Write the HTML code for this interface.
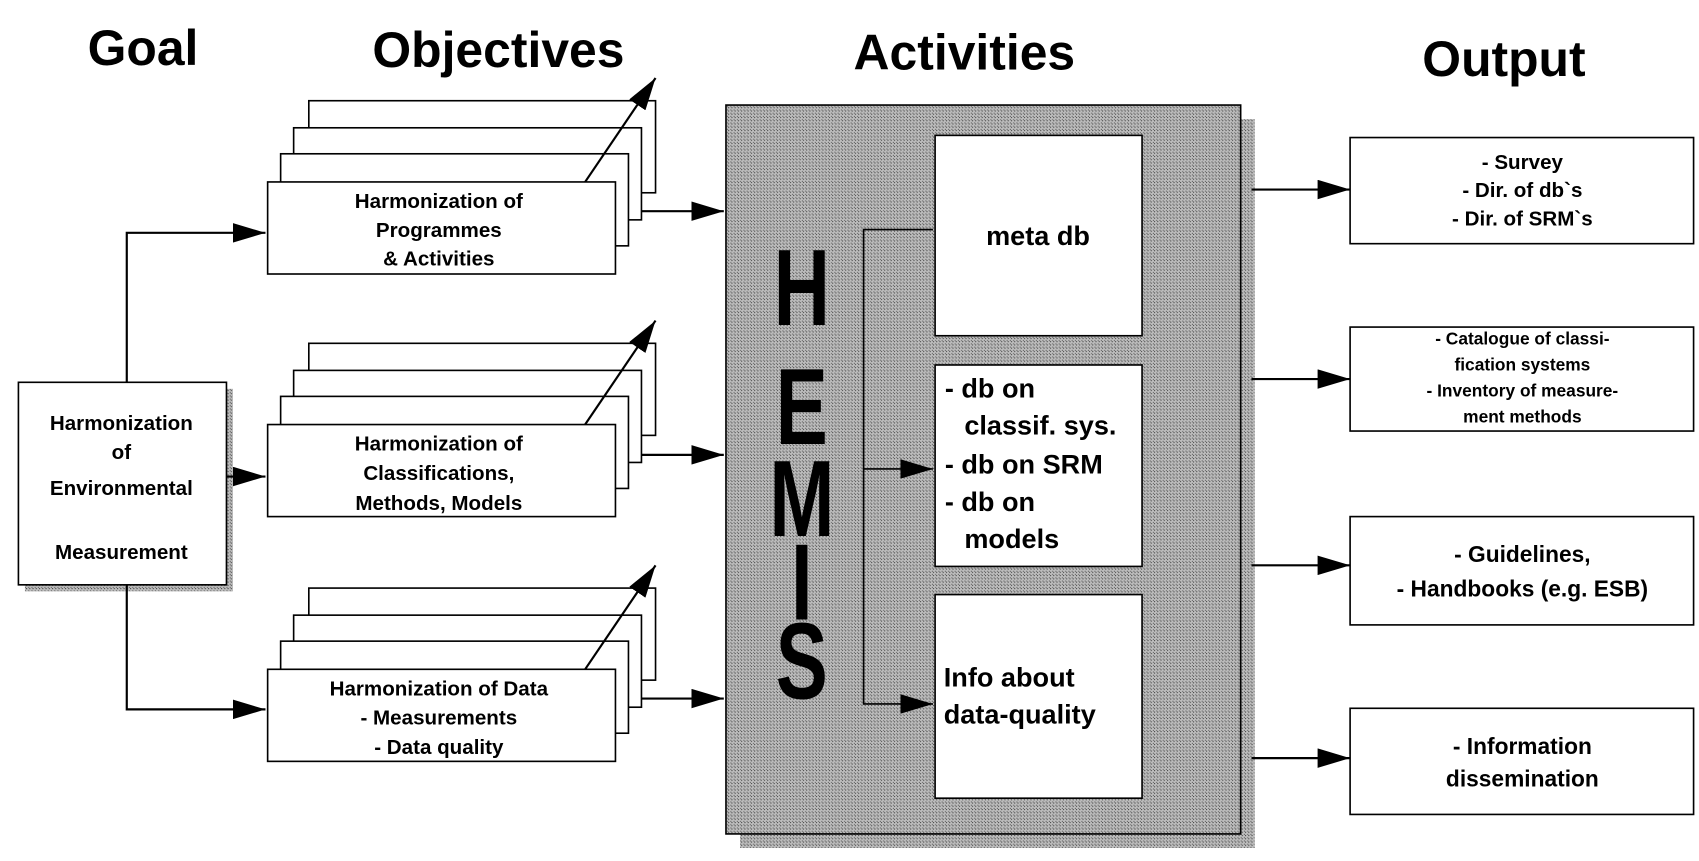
<!DOCTYPE html>
<html><head><style>html,body{margin:0;padding:0;background:#fff}svg{display:block}text{font-family:"Liberation Sans",sans-serif;font-weight:bold}</style></head><body>
<svg width="1699" height="861" viewBox="0 0 1568 795" preserveAspectRatio="none" xmlns="http://www.w3.org/2000/svg">
<defs>
<pattern id="dots" width="3" height="3" patternUnits="userSpaceOnUse"><rect width="3" height="3" fill="#bdbdbd"/><rect width="1" height="1" fill="#444"/><rect x="2" y="2" width="1" height="1" fill="#666"/></pattern>
<marker id="arB" markerWidth="30" markerHeight="18" refX="30" refY="9" orient="auto" markerUnits="userSpaceOnUse" viewBox="0 0 30 18"><path d="M0,0 L30,9 L0,18z" fill="#000"/></marker>
</defs>
<g font-size="46" text-anchor="middle">
<text x="132" y="60">Goal</text><text x="460" y="62">Objectives</text><text x="890" y="64">Activities</text><text x="1388" y="70">Output</text>
</g>
<rect x="23" y="359" width="192" height="187" fill="url(#dots)"/>
<rect x="17" y="353" width="192" height="187" fill="#fff" stroke="#000" stroke-width="1.5"/>
<g font-size="19" text-anchor="middle"><text x="112" y="397">Harmonization</text><text x="112" y="424">of</text><text x="112" y="457">Environmental</text><text x="112" y="516">Measurement</text></g>
<g stroke="#000" stroke-width="2" fill="none">
<polyline points="117,353 117,215 245,215" marker-end="url(#arB)"/>
<line x1="209" y1="440" x2="245" y2="440" marker-end="url(#arB)"/>
<polyline points="117,540 117,655 245,655" marker-end="url(#arB)"/>
</g>
<g stroke="#000" stroke-width="1.5" fill="#fff">
<g id="st">
<rect x="285" y="93" width="320" height="85"/><rect x="271" y="118" width="321" height="85"/><rect x="259" y="142" width="321" height="85"/><rect x="247" y="168" width="321" height="85"/>
</g>
<use href="#st" y="224"/><use href="#st" y="450"/>
</g>
<g stroke="#000" stroke-width="2" fill="none">
<line x1="540" y1="168" x2="605" y2="72" marker-end="url(#arB)"/>
<line x1="540" y1="392" x2="605" y2="296" marker-end="url(#arB)"/>
<line x1="540" y1="618" x2="605" y2="522" marker-end="url(#arB)"/>
<line x1="592" y1="195" x2="668" y2="195" marker-end="url(#arB)"/>
<line x1="592" y1="420" x2="668" y2="420" marker-end="url(#arB)"/>
<line x1="592" y1="645" x2="668" y2="645" marker-end="url(#arB)"/>
</g>
<g font-size="19" text-anchor="middle">
<text x="405" y="192">Harmonization of</text><text x="405" y="219">Programmes</text><text x="405" y="245">&amp; Activities</text>
<text x="405" y="416">Harmonization of</text><text x="405" y="443">Classifications,</text><text x="405" y="471">Methods, Models</text>
<text x="405" y="642">Harmonization of Data</text><text x="405" y="669">- Measurements</text><text x="405" y="696">- Data quality</text>
</g>
<rect x="683" y="110" width="475" height="673" fill="url(#dots)"/>
<rect x="670" y="97" width="475" height="673" fill="url(#dots)" stroke="#000" stroke-width="1.5"/>
<g font-size="100" text-anchor="middle" transform="translate(740,0) scale(0.72,1)"><text x="0" y="300">H</text><text x="0" y="410">E</text><text x="0" y="495">M</text><text x="0" y="572">I</text><text x="0" y="645">S</text></g>
<g fill="#fff" stroke="#000" stroke-width="1.5">
<rect x="863" y="125" width="191" height="185"/><rect x="863" y="337" width="191" height="186"/><rect x="863" y="549" width="191" height="188"/>
</g>
<g stroke="#000" stroke-width="1.5" fill="none">
<polyline points="861,212 797,212 797,650 861,650" marker-end="url(#arB)"/>
<line x1="797" y1="433" x2="861" y2="433" marker-end="url(#arB)"/>
</g>
<g font-size="25"><text x="958" y="226" text-anchor="middle">meta db</text>
<text x="872" y="367">- db on</text><text x="890" y="401">classif. sys.</text><text x="872" y="437">- db on SRM</text><text x="872" y="472">- db on</text><text x="890" y="506">models</text>
<text x="871" y="634">Info about</text><text x="871" y="668">data-quality</text></g>
<g fill="#fff" stroke="#000" stroke-width="1.5">
<rect x="1246" y="127" width="317" height="98"/><rect x="1246" y="302" width="317" height="96"/><rect x="1246" y="477" width="317" height="100"/><rect x="1246" y="654" width="317" height="98"/>
</g>
<g stroke="#000" stroke-width="2">
<line x1="1155" y1="175" x2="1246" y2="175" marker-end="url(#arB)"/>
<line x1="1155" y1="350" x2="1246" y2="350" marker-end="url(#arB)"/>
<line x1="1155" y1="522" x2="1246" y2="522" marker-end="url(#arB)"/>
<line x1="1155" y1="700" x2="1246" y2="700" marker-end="url(#arB)"/>
</g>
<g font-size="19" text-anchor="middle">
<text x="1405" y="156">- Survey</text><text x="1405" y="182">- Dir. of db`s</text><text x="1405" y="208">- Dir. of SRM`s</text>
<text x="1405" y="318" font-size="16">- Catalogue of classi-</text><text x="1405" y="342" font-size="16">fication systems</text><text x="1405" y="366" font-size="16">- Inventory of measure-</text><text x="1405" y="390" font-size="16">ment methods</text>
<text x="1405" y="519" font-size="21">- Guidelines,</text><text x="1405" y="551" font-size="21">- Handbooks (e.g. ESB)</text>
<text x="1405" y="696" font-size="21">- Information</text><text x="1405" y="726" font-size="21">dissemination</text>
</g>
</svg>
</body></html>
